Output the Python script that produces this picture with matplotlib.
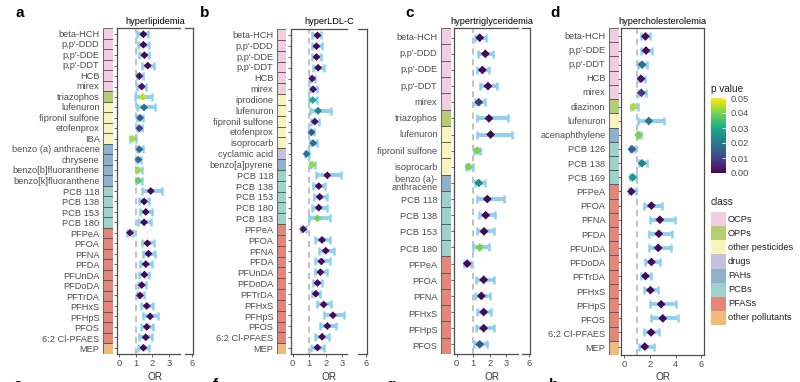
import numpy as np
import matplotlib
matplotlib.use("Agg")
import matplotlib.pyplot as plt
from matplotlib.patches import Rectangle
from matplotlib.colors import Normalize
from matplotlib.colorbar import ColorbarBase

plt.rcParams['font.family'] = ['Liberation Sans', 'DejaVu Sans']

class_names = ["OCPs", "OPPs", "other pesticides", "drugs", "PAHs", "PCBs", "PFASs", "other pollutants"]
class_colors = ["#F1CDE0", "#B3CF73", "#F7F5BE", "#C3C1DE", "#8FB1CE", "#9DD3C9", "#E4877A", "#F0BA78"]

pfas11 = ["PFPeA", "PFOA", "PFNA", "PFDA", "PFUnDA", "PFDoDA", "PFTrDA", "PFHxS", "PFHpS", "PFOS", "6:2 Cl-PFAES"]

## a: hyperlipidemia
a_names = ["beta-HCH", "p,p'-DDD", "p,p'-DDE", "p,p'-DDT", "HCB", "mirex", "triazophos", "lufenuron",
           "fipronil sulfone", "etofenprox", "IBA", "benzo (a) anthracene", "chrysene", "benzo[b]fluoranthene",
           "benzo[k]fluoranthene", "PCB 118", "PCB 138", "PCB 153", "PCB 180"] + pfas11 + ["MEP"]
a_class = [0]*6 + [1] + [2]*4 + [4]*4 + [5]*4 + [6]*11 + [7]
a_or = [1.46, 1.46, 1.52, 1.72, 1.22, 1.36, 1.42, 1.50, 1.26, 1.22, 0.82, 1.22, 1.16, 1.16, 1.16,
        1.90, 1.50, 1.60, 1.50, 0.66, 1.70, 1.76, 1.60, 1.52, 1.36, 1.26, 1.66, 1.86, 1.66, 1.60, 1.46]
a_lo = [1.10, 1.12, 1.22, 1.36, 1.06, 1.10, 0.96, 1.06, 1.06, 1.06, 0.68, 1.06, 1.02, 1.02, 1.02,
        1.36, 1.22, 1.26, 1.16, 0.50, 1.36, 1.42, 1.26, 1.22, 1.12, 1.06, 1.32, 1.46, 1.32, 1.22, 1.12]
a_hi = [1.76, 1.78, 1.82, 2.12, 1.42, 1.60, 1.96, 2.16, 1.46, 1.36, 1.00, 1.42, 1.30, 1.38, 1.36,
        2.56, 1.80, 1.96, 1.90, 0.82, 2.10, 2.16, 1.96, 1.80, 1.60, 1.50, 2.02, 2.32, 2.06, 1.96, 1.78]
a_p = [0.001, 0.001, 0.001, 0.001, 0.002, 0.002, 0.045, 0.018, 0.013, 0.010, 0.044, 0.017, 0.018, 0.043,
       0.038, 0.001, 0.001, 0.001, 0.001, 0.002, 0.001, 0.001, 0.001, 0.001, 0.001, 0.001, 0.001, 0.001,
       0.001, 0.001, 0.001]

## b: hyperLDL-C
b_names = ["beta-HCH", "p,p'-DDD", "p,p'-DDE", "p,p'-DDT", "HCB", "mirex", "iprodione", "lufenuron",
           "fipronil sulfone", "etofenprox", "isoprocarb", "cyclamic acid", "benzo[a]pyrene",
           "PCB 118", "PCB 138", "PCB 153", "PCB 180", "PCB 183"] + pfas11 + ["MEP"]
b_class = [0]*6 + [2]*5 + [3] + [4] + [5]*5 + [6]*11 + [7]
b_or = [1.50, 1.44, 1.44, 1.54, 1.18, 1.24, 1.22, 1.54, 1.34, 1.14, 1.24, 0.84, 1.18,
        2.10, 1.58, 1.64, 1.58, 1.50, 0.64, 1.78, 2.00, 1.74, 1.68, 1.50, 1.40, 1.88, 2.44, 2.10, 1.78, 1.50]
b_lo = [1.20, 1.18, 1.20, 1.24, 1.04, 1.04, 1.00, 1.04, 1.14, 0.98, 1.04, 0.74, 1.04,
        1.40, 1.24, 1.30, 1.18, 0.98, 0.48, 1.38, 1.58, 1.38, 1.34, 1.24, 1.18, 1.50, 1.90, 1.64, 1.38, 1.14]
b_hi = [1.74, 1.80, 1.74, 1.90, 1.34, 1.50, 1.50, 2.30, 1.58, 1.28, 1.50, 0.98, 1.38,
        2.94, 1.94, 2.10, 2.10, 2.24, 0.80, 2.24, 2.50, 2.24, 2.10, 1.80, 1.68, 2.30, 3.10, 2.64, 2.20, 1.90]
b_p = [0.001, 0.001, 0.001, 0.001, 0.002, 0.002, 0.030, 0.022, 0.002, 0.014, 0.018, 0.020, 0.042,
       0.001, 0.001, 0.001, 0.001, 0.040, 0.002, 0.001, 0.001, 0.001, 0.001, 0.001, 0.001, 0.001,
       0.001, 0.001, 0.001, 0.001]

## c: hypertriglyceridemia
c_names = ["beta-HCH", "p,p'-DDD", "p,p'-DDE", "p,p'-DDT", "mirex", "triazophos", "lufenuron",
           "fipronil sulfone", "isoprocarb", "benzo (a)-\nanthracene", "PCB 118", "PCB 138", "PCB 153",
           "PCB 180", "PFPeA", "PFOA", "PFNA", "PFHxS", "PFHpS", "PFOS"]
c_class = [0]*5 + [1] + [2]*3 + [4] + [5]*4 + [6]*6
c_or = [1.40, 1.74, 1.56, 1.90, 1.34, 1.96, 2.06, 1.26, 0.74, 1.34,
        1.86, 1.76, 1.66, 1.40, 0.64, 1.64, 1.50, 1.64, 1.64, 1.40]
c_lo = [1.10, 1.30, 1.26, 1.44, 1.10, 1.26, 1.26, 1.04, 0.54, 1.10,
        1.24, 1.34, 1.26, 1.00, 0.44, 1.20, 1.10, 1.26, 1.20, 1.04]
c_hi = [1.76, 2.20, 1.96, 2.44, 1.70, 3.10, 3.36, 1.44, 1.00, 1.70,
        2.90, 2.34, 2.24, 1.96, 0.90, 2.24, 2.00, 2.10, 2.26, 1.86]
c_p = [0.001, 0.001, 0.001, 0.001, 0.008, 0.001, 0.001, 0.040, 0.040, 0.024,
       0.001, 0.001, 0.001, 0.040, 0.001, 0.001, 0.001, 0.001, 0.001, 0.014]

## d: hypercholesterolemia
d_names = ["beta-HCH", "p,p'-DDE", "p,p'-DDT", "HCB", "mirex", "diazinon", "lufenuron", "acenaphthylene",
           "PCB 126", "PCB 138", "PCB 169"] + pfas11 + ["MEP"]
d_class = [0]*5 + [1] + [2] + [4] + [5]*3 + [6]*11 + [7]
d_or = [1.66, 1.71, 1.40, 1.32, 1.35, 0.75, 1.92, 1.14, 0.62, 1.40, 0.68, 0.57,
        2.13, 2.78, 2.70, 2.65, 2.13, 1.66, 2.05, 2.88, 3.01, 2.10, 1.61]
d_lo = [1.32, 1.32, 1.06, 1.09, 1.06, 0.55, 1.09, 1.01, 0.44, 1.14, 0.49, 0.42,
        1.53, 2.00, 1.97, 1.92, 1.66, 1.32, 1.53, 2.00, 2.13, 1.58, 1.19]
d_hi = [2.05, 2.18, 1.79, 1.61, 1.74, 1.06, 3.09, 1.32, 0.83, 1.79, 0.94, 0.95,
        2.96, 3.95, 3.69, 3.61, 2.78, 2.10, 2.65, 4.05, 4.18, 2.75, 2.31]
d_p = [0.001, 0.001, 0.018, 0.002, 0.008, 0.044, 0.020, 0.040, 0.015, 0.022, 0.027, 0.002,
       0.001, 0.001, 0.001, 0.001, 0.001, 0.001, 0.001, 0.001, 0.001, 0.001, 0.001]

W, H = 800, 382
fig = plt.figure(figsize=(8, 3.82), dpi=100)

def box(x0, x1, y0, y1):
    return [x0 / W, 1 - y1 / H, (x1 - x0) / W, (y1 - y0) / H]

grey = "#4d4d4d"
fs = 6.7
norm = Normalize(0, 0.05)
cmap = plt.get_cmap("viridis")

panels = [
    ("a", "hyperlipidemia", a_names, a_class, a_or, a_lo, a_hi, a_p,
     (103, 113), (117, 180), (185, 193), (28, 354), (-0.12, 3.65), (5.58, 6.06), [0, 1, 2, 3], 20, 16),
    ("b", "hyperLDL-C", b_names, b_class, b_or, b_lo, b_hi, b_p,
     (277, 286), (291, 347), (358, 367), (29, 354), (-0.1, 3.29), (5.52, 6.06), [0, 1, 2, 3], 205, 16),
    ("c", "hypertriglyceridemia", c_names, c_class, c_or, c_lo, c_hi, c_p,
     (441, 451), (454, 518), (522, 530), (28, 354), (-0.16, 3.72), (5.56, 6.04), [0, 1, 2, 3], 410, 20),
    ("d", "hypercholesterolemia", d_names, d_class, d_or, d_lo, d_hi, d_p,
     (609, 619), (621, 704), None, (28, 355), (-0.23, 6.2), None, [0, 2, 4, 6], 555, 20),
]

for (letter, title, names, cls, orv, lo, hi, pv, sx, mx, rx, yy, xl, xr, ticks, lx, msz) in panels:
    n = len(names)
    y = np.arange(n)
    orv = np.array(orv); lo = np.array(lo); hi = np.array(hi)

    # class strip
    sax = fig.add_axes(box(sx[0], sx[1], yy[0], yy[1]))
    sax.barh(y, [1]*n, height=1, left=0, color=[class_colors[c] for c in cls],
             edgecolor="#555555", linewidth=0.6)
    sax.set_xlim(0, 1)
    sax.set_ylim(n - 0.5, -0.5)
    sax.set_xticks([])
    sax.set_yticks(y)
    sax.set_yticklabels(names, fontsize=fs, color=grey, linespacing=0.9)
    sax.tick_params(axis="y", length=0, pad=2.5)
    for s in sax.spines.values():
        s.set_visible(False)

    axes = [fig.add_axes(box(mx[0], mx[1], yy[0], yy[1]))]
    if rx is not None:
        axes.append(fig.add_axes(box(rx[0], rx[1], yy[0], yy[1])))
    for i, ax in enumerate(axes):
        ax.axvline(1, color="#b0b0b0", linestyle=(0, (4, 3)), linewidth=1.1, zorder=1)
        ax.errorbar(orv, y, xerr=[orv - lo, hi - orv], fmt="none", ecolor="#8FD0EE",
                    elinewidth=2.8, capsize=2.8, capthick=1.8, zorder=2)
        ax.scatter(orv, y, c=pv, cmap=cmap, norm=norm, marker="D", s=msz, zorder=3, linewidths=0)
        ax.set_ylim(n - 1 + 0.6, -0.6)
        for s in ax.spines.values():
            s.set_color(grey)
            s.set_linewidth(0.9)
        ax.tick_params(axis="x", length=2, width=0.6, color=grey, labelsize=fs, labelcolor=grey, pad=1.5)
        if i == 0:
            ax.set_xlim(*xl)
            ax.set_xticks(ticks)
            ax.set_yticks(y)
            ax.set_yticklabels([])
            ax.tick_params(axis="y", length=2, width=0.6, color=grey)
            if rx is not None:
                ax.spines["right"].set_visible(False)
        else:
            ax.set_xlim(*xr)
            ax.set_xticks([6])
            ax.set_yticks([])
            ax.spines["left"].set_visible(False)

    right = rx[1] if rx is not None else mx[1]
    cx = (mx[0] + right) / 2
    fig.text(cx / W, 1 - 22 / H, title, fontsize=fs, ha="center", va="center", color="black")
    fig.text(cx / W, 1 - 377 / H, "OR", fontsize=7.2, ha="center", va="center", color="#333333")
    fig.text(lx / W, 1 - 13 / H, letter, fontsize=11, fontweight="bold", ha="center", va="center")

# cut-off letters of the next row
for lx, letter in zip([18, 215, 391, 554], ["e", "f", "g", "h"]):
    fig.text(lx / W, 1 - 378 / H, letter, fontsize=11, fontweight="bold", ha="center", va="top")

# p value colourbar
cax = fig.add_axes(box(711, 726, 98, 173))
cb = ColorbarBase(cax, cmap=cmap, norm=norm, ticks=[0, 0.01, 0.02, 0.03, 0.04, 0.05])
cb.outline.set_visible(False)
cb.ax.set_yticklabels(["0.00", "0.01", "0.02", "0.03", "0.04", "0.05"])
cax.tick_params(length=3, width=0.6, color="white", direction="in", labelsize=fs, labelcolor=grey, pad=3)
fig.text(711 / W, 1 - 89 / H, "p value", fontsize=7.2, ha="left", va="center", color="#222222")

# class legend
lax = fig.add_axes(box(711, 795, 212, 325))
lax.set_xlim(0, 84)
lax.set_ylim(len(class_names), 0)
lax.axis("off")
for k, (nm, col) in enumerate(zip(class_names, class_colors)):
    lax.add_patch(Rectangle((0, k), 15, 1, facecolor=col, edgecolor="none"))
    lax.text(17, k + 0.5, nm, fontsize=fs, va="center", ha="left", color="#222222")
fig.text(711 / W, 1 - 202 / H, "class", fontsize=7.2, ha="left", va="center", color="#222222")

fig.savefig("out.png", dpi=100)
